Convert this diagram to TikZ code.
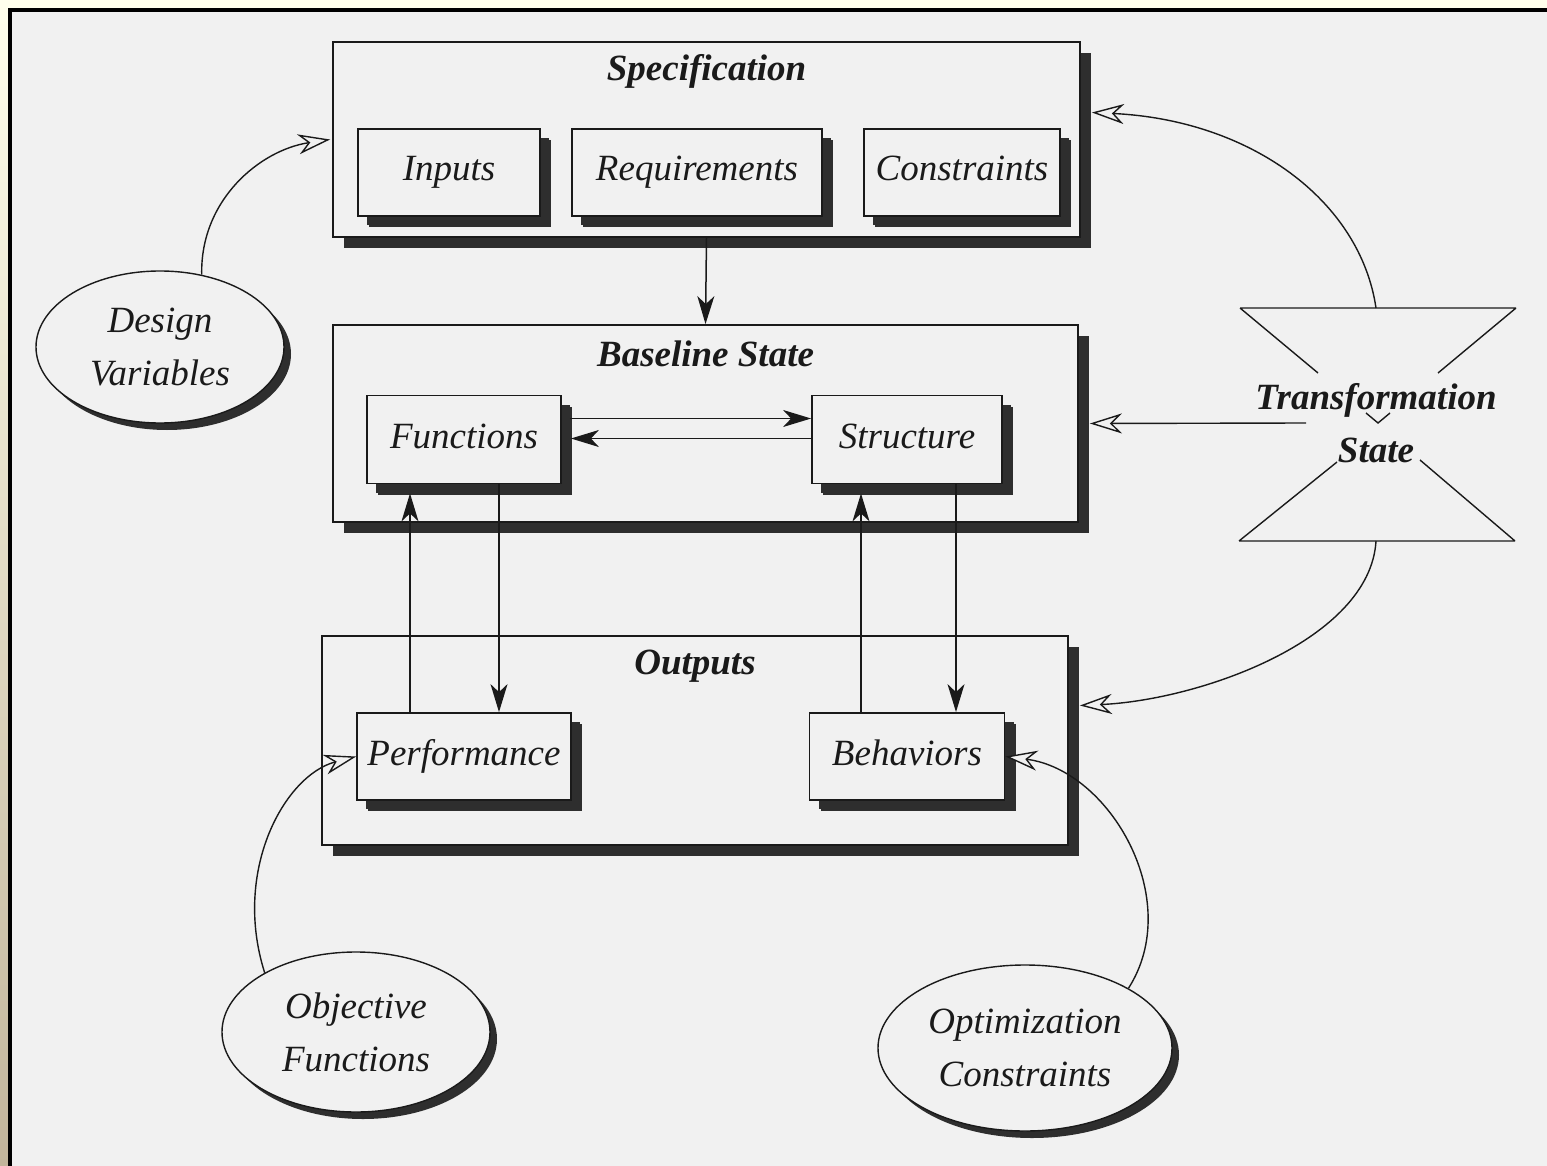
\documentclass[tikz,border=0pt]{standalone}
\usepackage{fontspec}
\setmainfont{Liberation Serif}
\usetikzlibrary{arrows.meta,shapes.geometric,shadows}

\definecolor{paper}{HTML}{F1F1F1}
\definecolor{ink}{HTML}{1A1A1A}
\definecolor{shade}{HTML}{2E2E2E}
\definecolor{cream}{HTML}{FFFFEC}
\definecolor{tanstrip}{HTML}{C2B59B}

\tikzset{
  lbl/.style={font=\fontsize{37}{53}\selectfont\itshape, text=ink, align=center},
  ttl/.style={font=\fontsize{37}{53}\selectfont\bfseries\itshape, text=ink, align=center},
  bigbox/.style={draw=ink, line width=1.8pt, fill=paper, inner sep=0pt,
    general shadow={fill=shade, shadow xshift=11pt, shadow yshift=-11pt}},
  inbox/.style={bigbox, lbl, minimum height=87pt, text height=26pt, text depth=9pt,
    general shadow={fill=shade, shadow xshift=9pt, shadow yshift=-9pt}},
  oval/.style={ellipse, draw=ink, line width=1.4pt, fill=paper, inner sep=0pt, lbl,
    general shadow={fill=shade, shadow xshift=7pt, shadow yshift=-7pt}},
  flow/.style={draw=ink, line width=1.5pt, -{Stealth[length=28pt,width=17pt,inset=8pt]}},
  feed/.style={draw=ink, line width=1.4pt, -{Stealth[open,length=32pt,width=20pt,inset=10pt,fill=paper]}},
}

\begin{document}
\begin{tikzpicture}[x=1pt,y=-1pt]
  \useasboundingbox (0,0) rectangle (1547,1166);
  % page and frame
  \fill[cream] (0,0) rectangle (1547,1166);
  \shade[top color=cream, bottom color=tanstrip] (0,0) rectangle (8,1166);
  \fill[black] (8,8) rectangle (1547,12);
  \fill[black] (8,8) rectangle (12,1166);
  \fill[paper] (12,12) rectangle (1547,1166);

  % specification
  \node[bigbox, minimum width=747pt, minimum height=195pt] (spec) at (706.5,139.5) {};
  \node[ttl] (spectitle) at ([yshift=-30pt]spec.north) {Specification};
  \node[inbox, minimum width=182pt] (inputs) at (449,172.5) {Inputs};
  \node[inbox, minimum width=250pt] (reqs) at (697,172.5) {Requirements};
  \node[inbox, minimum width=196pt] (cons) at (962,172.5) {Constraints};

  % baseline state
  \node[bigbox, minimum width=745pt, minimum height=197pt] (base) at (705.5,423.5) {};
  \node[ttl] (basetitle) at ([yshift=-30pt]base.north) {Baseline State};
  \node[inbox, minimum width=194pt, minimum height=88pt] (func) at (464,439.5) {Functions};
  \node[inbox, minimum width=190pt, minimum height=88pt] (struc) at (907,439.5) {Structure};

  % outputs
  \node[bigbox, minimum width=746pt, minimum height=209pt] (outs) at (695,740.5) {};
  \node[ttl] (outstitle) at ([yshift=-31pt]outs.north) {Outputs};
  \node[inbox, minimum width=214pt] (perf) at (464,756.5) {Performance};
  \node[inbox, minimum width=195pt] (behav) at (907,756.5) {Behaviors};

  % ovals
  \node[oval, minimum width=248pt, minimum height=152pt] (dv) at (160,347) {Design\\Variables};
  \node[oval, minimum width=268pt, minimum height=160pt] (of) at (356,1032) {Objective\\Functions};
  \node[oval, minimum width=294pt, minimum height=166pt] (oc) at (1025,1048) {Optimization\\Constraints};

  % transformation state
  \draw[ink, line width=1.4pt] (1240,308) -- (1516,308)
    (1240,308) -- (1318,373) (1516,308) -- (1438,373)
    (1366,413) -- (1378,423) -- (1390,413)
    (1239,541) -- (1515,541)
    (1239,541) -- (1337,462) (1515,541) -- (1420,460);
  \node[ttl] (ts) at (1376,423) {Transformation\\State};
  \coordinate (hgtop) at (1376,308);
  \coordinate (hgbot) at (1376,541);

  % connectors
  \draw[flow] (spec.south) -- (base.north);
  \draw[flow] ([shift={(8pt,21pt)}]func.east) -- ([yshift=21pt]struc.west);
  \draw[flow] ([yshift=1pt]struc.west) -- ([shift={(9pt,1pt)}]func.east);
  \draw[flow] ([xshift=-54pt]perf.north) -- ([xshift=-54pt,yshift=-9pt]func.south);
  \draw[flow] ([xshift=35pt]func.south) -- ([xshift=35pt]perf.north);
  \draw[flow] ([xshift=-46pt]behav.north) -- ([xshift=-46pt,yshift=-9pt]struc.south);
  \draw[flow] ([xshift=49pt]struc.south) -- ([xshift=49pt]behav.north);

  \draw[feed] (dv.60) .. controls (200,200) and (260,150) .. ([shift={(-2pt,0pt)}]spec.west);
  \draw[feed] (hgtop) .. controls (1360,200) and (1250,120) .. ([shift={(11pt,27pt)}]spec.east);
  \draw[feed] ([xshift=-70pt]ts.center) -- ([xshift=11pt]base.east);
  \draw[feed] (hgbot) .. controls (1370,640) and (1200,700) .. ([shift={(11pt,35pt)}]outs.east);
  \draw[feed] (of.147) .. controls (232,870) and (285,775) .. (perf.west);
  \draw[feed] (oc.30) .. controls (1185,900) and (1110,770) .. (behav.east);
\end{tikzpicture}
\end{document}
